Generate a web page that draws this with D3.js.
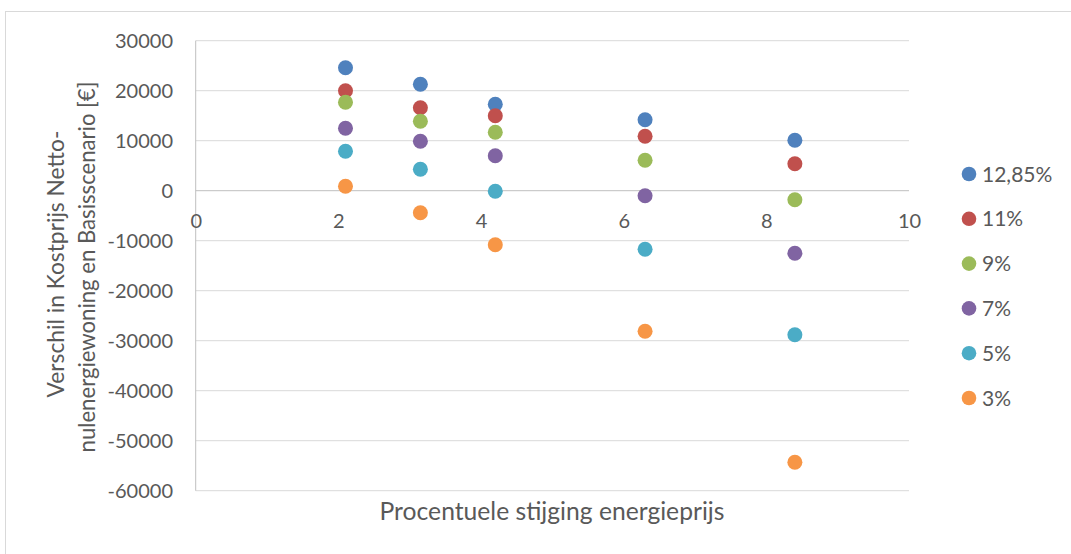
<!DOCTYPE html>
<html><head><meta charset="utf-8">
<script src="https://cdn.jsdelivr.net/npm/d3@7/dist/d3.min.js"></script>
<style>
html,body{margin:0;padding:0;background:#fff;}
svg{display:block;font-family:Lato,"Open Sans",sans-serif;}
</style></head>
<body>
<svg id="chart" width="1071" height="554"></svg>
<script>
const xValues = [2.1, 3.15, 4.2, 6.3, 8.4];
const seriesNames = ["12,85%", "11%", "9%", "7%", "5%", "3%"];
const seriesColors = ["#4F81BD", "#C0504D", "#9BBB59", "#8064A2", "#4BACC6", "#F79646"];
const s1285 = [24600, 21300, 17300, 14200, 10100];
const s11 = [20000, 16600, 15000, 10900, 5400];
const s9 = [17700, 13900, 11700, 6100, -1800];
const s7 = [12500, 9900, 7000, -1000, -12500];
const s5 = [7900, 4300, -100, -11700, -28800];
const s3 = [900, -4400, -10800, -28100, -54300];
const seriesValues = [s1285, s11, s9, s7, s5, s3];
const xTicks = [0, 2, 4, 6, 8, 10];
const yTicks = [30000, 20000, 10000, 0, -10000, -20000, -30000, -40000, -50000, -60000];
const xTitle = "Procentuele stijging energieprijs";
const yTitleLines = ["Verschil in Kostprijs Netto-", "nulenergiewoning en Basisscenario [€]"];

const svg = d3.select("#chart");
svg.append("rect").attr("x",5.5).attr("y",11.5).attr("width",1100).attr("height",600)
  .attr("fill","none").attr("stroke","#d9d9d9").attr("stroke-width",1);

const x = d3.scaleLinear().domain([0,10]).range([195.7, 909]);
const y = d3.scaleLinear().domain([-60000,30000]).range([490.7, 40.7]);

function fitWidth(sel, target){
  const fs = +sel.attr("font-size");
  const w = sel.node().getComputedTextLength();
  if (w > 0) sel.attr("font-size", (fs*target/w).toFixed(2));
}

// gridlines
const grid = svg.append("g");
grid.selectAll("line").data(yTicks).join("line")
  .attr("x1", x(0)).attr("x2", x(10))
  .attr("y1", d=>y(d)).attr("y2", d=>y(d))
  .attr("stroke", d=> d===0 ? "#bfbfbf" : "#d9d9d9").attr("stroke-width",1);
svg.append("line").attr("x1",x(0)).attr("x2",x(0)).attr("y1",y(30000)).attr("y2",y(-60000))
  .attr("stroke","#bfbfbf").attr("stroke-width",1);

// y axis labels
const yAxis = d3.axisLeft(y).tickValues(yTicks).tickSize(0).tickPadding(0).tickFormat(d=>String(d));
const ya = svg.append("g").attr("transform",`translate(173,0)`).call(yAxis);
ya.select(".domain").remove();
ya.selectAll("text").attr("font-size",20).attr("fill","#595959").attr("font-family","Lato");

// x axis labels at zero line
const xAxis = d3.axisBottom(x).tickValues(xTicks).tickSize(0).tickPadding(0).tickFormat(d=>String(d));
const xa = svg.append("g").attr("transform",`translate(0,${y(0)+23})`).call(xAxis);
xa.select(".domain").remove();
xa.selectAll("text").attr("font-size",20).attr("fill","#595959").attr("font-family","Lato");

// points
seriesValues.forEach((vals,i)=>{
  svg.append("g").selectAll("circle").data(vals).join("circle")
    .attr("cx",(d,j)=>x(xValues[j])).attr("cy",d=>y(d)).attr("r",7.5)
    .attr("fill",seriesColors[i]);
});

// x title
const xt = svg.append("text").attr("x",552).attr("y",520).attr("text-anchor","middle")
  .attr("font-size",20).attr("fill","#595959").text(xTitle);
fitWidth(xt, 345);

// y title
const yt1 = svg.append("text").attr("transform","translate(64,264) rotate(-90)").attr("text-anchor","middle")
  .attr("font-size",20).attr("fill","#595959").text(yTitleLines[0]);
fitWidth(yt1, 267);
const yt2 = svg.append("text").attr("transform","translate(95,267) rotate(-90)").attr("text-anchor","middle")
  .attr("font-size",20).attr("fill","#595959").text(yTitleLines[1]);
fitWidth(yt2, 371);

// legend
const leg = svg.append("g");
seriesNames.forEach((n,i)=>{
  const cy = 174 + i*44.8;
  leg.append("circle").attr("cx",969).attr("cy",cy).attr("r",7.3).attr("fill",seriesColors[i]);
  leg.append("text").attr("x",982).attr("y",cy+7.5).attr("font-size",21).attr("fill","#595959").text(n);
});
</script>
</body></html>
